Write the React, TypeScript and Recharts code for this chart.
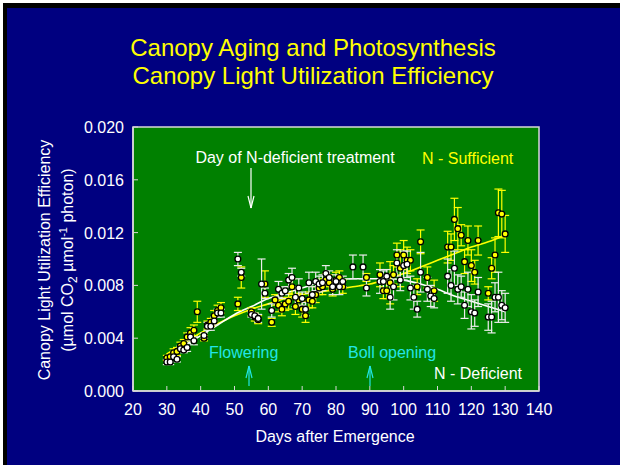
import { ComposedChart, Scatter, Line, XAxis, YAxis, CartesianGrid, ErrorBar, ReferenceArea } from 'recharts'

const days = [
  30, 31, 32, 33, 34, 35, 36, 37, 38, 39, 41, 42, 43, 44, 45, 46, 51, 52, 55, 56,
  57, 58, 59, 61, 62, 63, 64, 65, 66, 67, 68, 69, 70, 71, 72, 73, 74, 75, 76, 77,
  78, 79, 80, 81, 82, 85, 88, 89, 93, 94, 95, 96, 97, 98, 99, 100, 101, 102, 103, 104,
  105, 107, 108, 109, 113, 114, 115, 116, 117, 118, 119, 120, 121, 122, 125, 126, 127, 128, 129, 130,
]

const sufficient = [
  0.0025, 0.0026, 0.0029, 0.003, 0.0034, 0.0036, 0.0041, 0.0044, 0.0046, 0.006, 0.004, 0.005, 0.0052, 0.0057, 0.0061, 0.0063, 0.0066, 0.0086, 0.006, 0.0056,
  0.0054, null, 0.0081, 0.0052, 0.0069, 0.0065, 0.0062, 0.0066, 0.0068, 0.0079, 0.0064, 0.0069, 0.0062, 0.0057, 0.0069, 0.0068, 0.0073, 0.0078, 0.0079, 0.0084,
  0.0082, 0.0077, 0.0084, 0.0086, 0.0079, null, null, 0.0086, 0.0088, 0.0076, 0.0076, 0.0082, 0.0088, 0.0103, 0.0093, 0.0103, 0.0099, 0.0099, null, 0.0079,
  0.0113, 0.0086, null, 0.0076, 0.0109, 0.0109, 0.013, 0.0123, 0.0118, 0.0098, 0.0114, 0.0095, 0.009, 0.0114, 0.0074, 0.0093, 0.0103, 0.0135, 0.0134, 0.0119,
]

const sufficientErr = [
  0.0002, 0.0002, 0.0003, 0.0003, 0.0003, 0.0003, 0.0003, 0.0004, 0.0004, 0.0008, 0.0002, 0.0003, 0.0003, 0.0004, 0.0004, 0.0004, 0.0005, 0.0008, 0.0003, 0.0003,
  0.0003, 0, 0.001, 0.0003, 0.0004, 0.0005, 0.0005, 0.0005, 0.0006, 0.0006, 0.0006, 0.0005, 0.0006, 0.0005, 0.0006, 0.0005, 0.0006, 0.0005, 0.0006, 0.0005,
  0.0006, 0.0005, 0.0006, 0.0005, 0.0005, 0, 0, 0.0003, 0.0009, 0.0006, 0.0006, 0.0016, 0.0007, 0.0009, 0.0014, 0.0011, 0.001, 0.0008, 0, 0.0006,
  0.0009, 0.0008, 0, 0.0008, 0.0012, 0.001, 0.0016, 0.0016, 0.0008, 0.0009, 0.0011, 0.0012, 0.0009, 0.0011, 0.0005, 0.0008, 0.0013, 0.0018, 0.0018, 0.0014,
]

const deficient = [
  0.0022, 0.0022, 0.0026, 0.0024, 0.0032, 0.0031, 0.0033, 0.0041, 0.0038, null, 0.0042, 0.0049, 0.0049, 0.0053, 0.0059, 0.0059, 0.01, 0.009, 0.0058, 0.0057,
  0.0055, 0.0081, 0.0074, 0.0061, null, 0.0077, 0.0074, 0.0076, 0.0084, 0.0086, 0.0071, 0.0078, 0.007, 0.0062, 0.0082, 0.0073, 0.0083, 0.0081, 0.0082, 0.0089,
  0.0086, 0.0079, 0.0083, 0.0079, 0.0083, 0.0094, 0.0094, 0.0078, 0.0083, 0.0083, 0.0087, 0.0071, 0.0079, 0.0097, 0.0084, 0.0095, 0.0096, 0.0078, 0.0071, 0.0062,
  0.009, 0.0077, 0.0072, 0.007, 0.0087, 0.008, 0.0093, 0.0077, 0.0079, 0.0065, 0.0077, 0.006, 0.0059, 0.0075, 0.0056, 0.0056, 0.0071, 0.0071, 0.0065, 0.0063,
]

const deficientErr = [
  0.0002, 0.0002, 0.0002, 0.0002, 0.0002, 0.0002, 0.0003, 0.0003, 0.0003, 0, 0.0002, 0.0003, 0.0003, 0.0003, 0.0003, 0.0003, 0.0005, 0.0003, 0.0002, 0.0002,
  0.0003, 0.0019, 0.0004, 0.0005, 0, 0.0006, 0.0004, 0.0003, 0.0005, 0.0007, 0.0007, 0.0007, 0.0005, 0.0005, 0.0008, 0.0006, 0.0007, 0.0006, 0.0006, 0.0006,
  0.0005, 0.0006, 0.0005, 0.0006, 0.0004, 0.0009, 0.0009, 0.0006, 0.0009, 0.0008, 0.0005, 0.0009, 0.001, 0.001, 0.0008, 0.0011, 0.001, 0.0009, 0.0009, 0.0006,
  0.0015, 0.0009, 0.0008, 0.0007, 0.0013, 0.0012, 0.0013, 0.0011, 0.0008, 0.001, 0.0013, 0.0013, 0.001, 0.0011, 0.001, 0.0012, 0.0011, 0.0019, 0.0011, 0.0011,
]

// fitted curves
const fitDays = [30, 35, 40, 45, 50, 55, 60, 65, 70, 75, 80, 85, 90, 95, 100, 105, 110, 115, 120, 125, 130]
const sufficientFit = [
  0.0028, 0.0036, 0.0044, 0.0051, 0.0057, 0.0062, 0.0066, 0.007, 0.0073, 0.0075, 0.0077, 0.0079,
  0.0081, 0.0085, 0.0089, 0.0094, 0.0099, 0.0104, 0.0109, 0.0113, 0.0118,
]
const deficientFit = [
  0.0025, 0.0034, 0.0042, 0.005, 0.0058, 0.0064, 0.007, 0.0074, 0.0078, 0.0082, 0.0084, 0.0085,
  0.0085, 0.0085, 0.0084, 0.0081, 0.0077, 0.0072, 0.0068, 0.0064, 0.006,
]

const xTicks = [20, 30, 40, 50, 60, 70, 80, 90, 100, 110, 120, 130, 140]
const yTicks = [0, 0.004, 0.008, 0.012, 0.016, 0.02]

const FONT = '"Liberation Sans", Arial, Helvetica, sans-serif'
const NAVY = '#000080'
const GREEN = '#008000'
const BORDER = '#d8d8d8'
const YELLOW = '#ffff00'
const CYAN = '#22e6e6'

const toPoints = (values: (number | null)[], errs: number[]) =>
  days
    .map((day, i) => ({ day, v: values[i], err: errs[i] }))
    .filter((p) => p.v !== null)

const sufData = toPoints(sufficient, sufficientErr)
const defData = toPoints(deficient, deficientErr)
const fitData = fitDays.map((day, i) => ({ day, suf: sufficientFit[i], def: deficientFit[i] }))

const BottomTick = ({ x, y, payload }: any) => (
  <g>
    <line x1={x} x2={x} y1={y} y2={y - 5} stroke={BORDER} />
    <text x={x} y={y + 24} textAnchor="middle" fill="#fff" fontSize={16} fontFamily={FONT}>
      {payload.value}
    </text>
  </g>
)

const LeftTick = ({ x, y, payload }: any) => (
  <g>
    <line x1={x} x2={x + 5} y1={y} y2={y} stroke={BORDER} />
    <text x={x - 9} y={y + 6} textAnchor="end" fill="#fff" fontSize={16} fontFamily={FONT}>
      {payload.value.toFixed(3)}
    </text>
  </g>
)

const TopTick = ({ x, y }: any) => <line x1={x} x2={x} y1={y} y2={y + 5} stroke={BORDER} />
const RightTick = ({ x, y }: any) => <line x1={x} x2={x - 5} y1={y} y2={y} stroke={BORDER} />

const Dot = ({ cx, cy, fill }: any) => (
  <circle cx={cx} cy={cy} r={2.9} fill={fill} stroke="#000" strokeWidth={1.3} />
)

function Arrow({ x, y1, y2, color }: { x: number; y1: number; y2: number; color: string }) {
  const dir = y2 > y1 ? -1 : 1
  return (
    <g stroke={color} strokeWidth={1.2} fill="none">
      <line x1={x} x2={x} y1={y1} y2={y2} />
      <line x1={x - 3} x2={x} y1={y2 + dir * 12} y2={y2} />
      <line x1={x + 3} x2={x} y1={y2 + dir * 12} y2={y2} />
    </g>
  )
}

export default function App() {
  return (
    <div style={{ position: 'absolute', left: 0, top: 0, width: 620, height: 465, background: '#fff', overflow: 'hidden' }}>
      <div style={{ position: 'absolute', left: 3, top: 3, width: 617, height: 462, background: '#000' }} />
      <div style={{ position: 'absolute', left: 7, top: 8, width: 613, height: 457, background: NAVY }} />
      <div style={{ position: 'absolute', left: 0, top: 0 }}>
        <ComposedChart width={620} height={465} margin={{ top: 127, right: 81, bottom: 44, left: 73 }}>
          <CartesianGrid horizontal={false} vertical={false} fill={GREEN} stroke="none" />
          <ReferenceArea x1={20} x2={140} y1={0} y2={0.02} fill="none" stroke={BORDER} strokeWidth={1.5} />
          <XAxis
            xAxisId={0}
            type="number"
            dataKey="day"
            domain={[20, 140]}
            ticks={xTicks}
            height={30}
            tickSize={0}
            tickMargin={0}
            tickLine={false}
            axisLine={{ stroke: BORDER, strokeWidth: 1.5 }}
            tick={<BottomTick />}
            interval={0}
          />
          <XAxis
            xAxisId="top"
            orientation="top"
            type="number"
            domain={[20, 140]}
            ticks={xTicks}
            height={0}
            tickSize={0}
            tickMargin={0}
            tickLine={false}
            axisLine={{ stroke: BORDER, strokeWidth: 1.5 }}
            tick={<TopTick />}
            interval={0}
          />
          <YAxis
            yAxisId={0}
            type="number"
            dataKey="v"
            domain={[0, 0.02]}
            ticks={yTicks}
            width={60}
            tickSize={0}
            tickMargin={0}
            tickLine={false}
            axisLine={{ stroke: BORDER, strokeWidth: 1.5 }}
            tick={<LeftTick />}
            interval={0}
          />
          <YAxis
            yAxisId="right"
            orientation="right"
            type="number"
            domain={[0, 0.02]}
            ticks={yTicks}
            width={0}
            tickSize={0}
            tickMargin={0}
            tickLine={false}
            axisLine={{ stroke: BORDER, strokeWidth: 1.5 }}
            tick={<RightTick />}
            interval={0}
          />
          <Line data={fitData} dataKey="suf" type="monotone" stroke={YELLOW} strokeWidth={1.6} dot={false} isAnimationActive={false} />
          <Line data={fitData} dataKey="def" type="monotone" stroke="#fff" strokeWidth={1.6} dot={false} isAnimationActive={false} />
          <Scatter data={sufData} dataKey="v" fill={YELLOW} shape={<Dot />} isAnimationActive={false}>
            <ErrorBar dataKey="err" direction="y" width={4} stroke={YELLOW} strokeWidth={1.2} />
          </Scatter>
          <Scatter data={defData} dataKey="v" fill="#fff" shape={<Dot />} isAnimationActive={false}>
            <ErrorBar dataKey="err" direction="y" width={4} stroke="#ececec" strokeWidth={1.2} />
          </Scatter>
        </ComposedChart>
      </div>
      <svg width={620} height={465} style={{ position: 'absolute', left: 0, top: 0, pointerEvents: 'none' }} fontFamily={FONT}>
        <text x={313} y={56} textAnchor="middle" fill={YELLOW} fontSize={24}>Canopy Aging and Photosynthesis</text>
        <text x={313} y={84} textAnchor="middle" fill={YELLOW} fontSize={24}>Canopy Light Utilization Efficiency</text>

        <text transform="translate(50,260) rotate(-90)" textAnchor="middle" fill="#fff" fontSize={16}>
          Canopy Light Utilization Efficiency
        </text>
        <text transform="translate(73,260) rotate(-90)" textAnchor="middle" fill="#fff" fontSize={16}>
          (µmol CO<tspan fontSize={12} dy={4}>2</tspan><tspan dy={-4}> µmol</tspan>
          <tspan fontSize={11} dy={-6}>-1</tspan><tspan dy={6}> photon)</tspan>
        </text>
        <text x={335} y={442} textAnchor="middle" fill="#fff" fontSize={16}>Days after Emergence</text>

        <text x={295} y={163} textAnchor="middle" fill="#fff" fontSize={16}>Day of N-deficient treatment</text>
        <Arrow x={251} y1={168} y2={208} color="#fff" />
        <text x={422} y={164} fill={YELLOW} fontSize={16}>N - Sufficient</text>
        <text x={209} y={358} fill={CYAN} fontSize={16}>Flowering</text>
        <Arrow x={249} y1={386} y2={366} color={CYAN} />
        <text x={348} y={358} fill={CYAN} fontSize={16}>Boll opening</text>
        <Arrow x={370} y1={386} y2={366} color={CYAN} />
        <text x={434} y={379} fill="#fff" fontSize={16}>N - Deficient</text>
      </svg>
    </div>
  )
}
